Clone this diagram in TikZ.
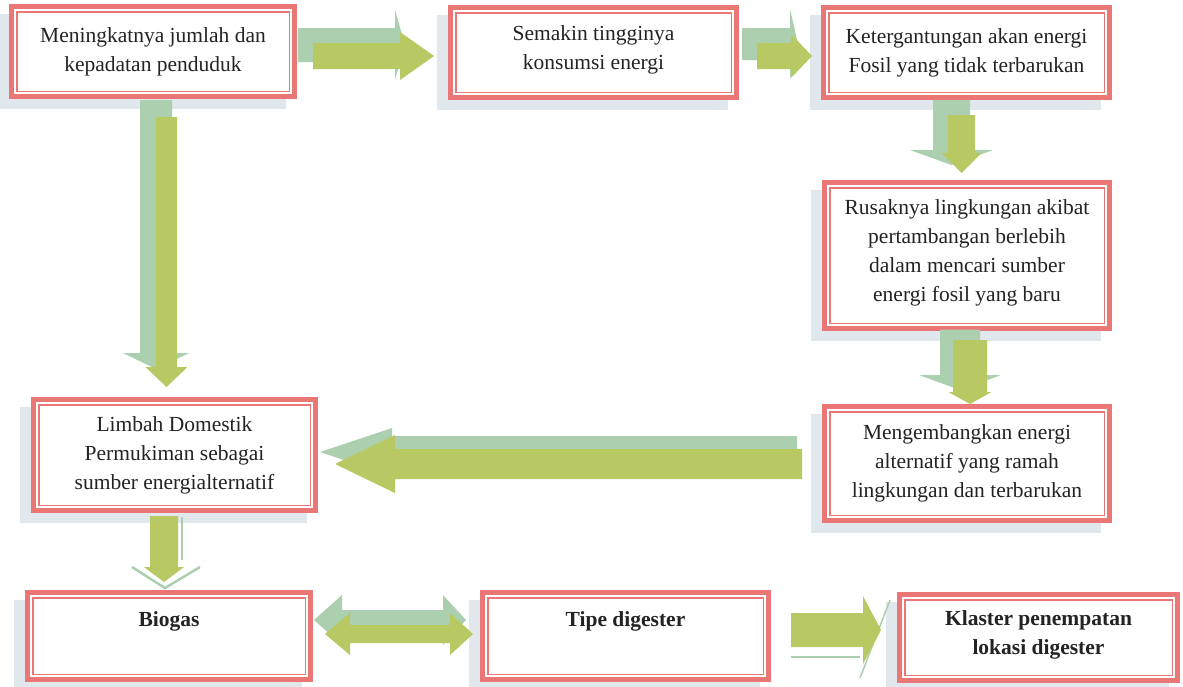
\documentclass[tikz,border=0pt]{standalone}
\usepackage{fontspec}
\setmainfont{Liberation Serif}
\usetikzlibrary{calc,shadows}
\definecolor{boxred}{RGB}{234,118,118}
\definecolor{boxshadow}{RGB}{224,231,237}
\definecolor{arrgreen}{RGB}{184,200,98}
\definecolor{arrshadow}{RGB}{172,207,176}
\definecolor{txt}{RGB}{35,35,35}
\tikzset{
  box/.style={rectangle, draw=boxred, line width=5pt, fill=white, inner sep=0pt, outer sep=0pt,
    align=center, text=txt, font=\fontsize{21.5}{29}\selectfont,
    general shadow={shadow xshift=-11pt, shadow yshift=-10pt, fill=boxshadow, draw=boxshadow}},
  innerline/.style={draw=boxred, line width=1.5pt},
  mainarr/.style={fill=arrgreen},
  shadarr/.style={fill=arrshadow},
  shadline/.style={draw=arrshadow, line width=2.5pt},
}
% horizontal block arrow: style, start, tip, half body, half head, signed head length
\newcommand\harr[6]{%
  \fill[#1] let \p1=#2, \p2=#3 in
   (\x1,{\y2+(#4)}) -- ({\x2-(#6)},{\y2+(#4)}) -- ({\x2-(#6)},{\y2+(#5)}) -- (\p2)
   -- ({\x2-(#6)},{\y2-(#5)}) -- ({\x2-(#6)},{\y2-(#4)}) -- (\x1,{\y2-(#4)}) -- cycle;}
% vertical (downward) block arrow
\newcommand\varr[6]{%
  \fill[#1] let \p1=#2, \p2=#3 in
   ({\x2-(#4)},\y1) -- ({\x2-(#4)},{\y2+(#6)}) -- ({\x2-(#5)},{\y2+(#6)}) -- (\p2)
   -- ({\x2+(#5)},{\y2+(#6)}) -- ({\x2+(#4)},{\y2+(#6)}) -- ({\x2+(#4)},\y1) -- cycle;}
\newcommand\inbox[1]{\draw[innerline] ([xshift=5.25pt,yshift=-5.25pt]#1.north west) rectangle ([xshift=-5.25pt,yshift=5.25pt]#1.south east);}
\begin{document}
\begin{tikzpicture}[x=1pt,y=-1pt]
\fill[white] (0,0) rectangle (1183,686);
\useasboundingbox (0,0) rectangle (1183,686);
% boxes
\node[box, minimum width=283pt, minimum height=90pt] (b1) at (153,51.5)
  {Meningkatnya jumlah dan\\kepadatan penduduk};
\node[box, minimum width=286pt, minimum height=90pt, text depth=10pt] (b2) at (593.5,52.5)
  {Semakin tingginya\\konsumsi energi};
\node[box, minimum width=286pt, minimum height=90pt] (b3) at (966.5,52.5)
  {Ketergantungan akan energi\\Fosil yang tidak terbarukan};
\node[box, minimum width=285pt, minimum height=146pt, text depth=9pt] (b4) at (967,255.5)
  {Rusaknya lingkungan akibat\\pertambangan berlebih\\dalam mencari sumber\\energi fosil yang baru};
\node[box, minimum width=285pt, minimum height=114pt] (b5) at (967,463.5)
  {Mengembangkan energi\\alternatif yang ramah\\lingkungan dan terbarukan};
\node[box, minimum width=282pt, minimum height=111pt] (b6) at (174.5,455)
  {Limbah Domestik\\Permukiman sebagai\\sumber energialternatif};
\node[box, minimum width=283pt, minimum height=87pt] (b7) at (169,636)
  {\raisebox{10pt}[0pt][0pt]{\bfseries Biogas}};
\node[box, minimum width=286pt, minimum height=87pt] (b8) at (625.5,636)
  {\raisebox{10pt}[0pt][0pt]{\bfseries Tipe digester}};
\node[box, minimum width=278pt, minimum height=86pt, text depth=10pt] (b9) at (1038.5,637.5)
  {\bfseries Klaster penempatan\\\bfseries lokasi digester};
\foreach \n in {b1,b2,b3,b4,b5,b6,b7,b8,b9} {\inbox{\n}}
% arrow 1: b1 -> b2
\harr{shadarr}{($(b1.east)+(3.5,0)$)}{($(b2.west)+(-45.5,-7.5)$)}{17pt}{35pt}{10pt}
\harr{mainarr}{($(b1.east)+(18.5,0)$)}{($(b2.west)+(-16.5,3.5)$)}{13pt}{24pt}{34pt}
% arrow 2: b2 -> b3
\harr{shadarr}{($(b2.east)+(5.5,0)$)}{($(b3.west)+(-25.5,-8.5)$)}{16pt}{35pt}{8pt}
\harr{mainarr}{($(b2.east)+(20.5,0)$)}{($(b3.west)+(-11.5,3.5)$)}{13pt}{22pt}{21pt}
% arrow 3: b3 -> b4
\varr{shadarr}{($(b3.south)+(0,2.5)$)}{($(b4.north)+(-15.5,-17.5)$)}{18.5pt}{41.5pt}{15pt}
\varr{mainarr}{($(b3.south)+(0,17.5)$)}{($(b4.north)+(-5.5,-9.5)$)}{13.5pt}{20pt}{20pt}
% arrow 4: b4 -> b5
\varr{shadarr}{($(b4.south)+(0,1)$)}{($(b5.north)+(-7,-16.5)$)}{20pt}{41pt}{15pt}
\varr{mainarr}{($(b4.south)+(0,11.5)$)}{($(b5.north)+(3,-2.5)$)}{17pt}{21.5pt}{12pt}
% arrow 5: b5 -> b6
\harr{shadarr}{($(b5.west)+(-27.5,0)$)}{($(b6.east)+(4.5,-3)$)}{16pt}{24pt}{-72pt}
\harr{mainarr}{($(b5.west)+(-22.5,0)$)}{($(b6.east)+(19.5,9)$)}{15pt}{29pt}{-60pt}
% arrow 6: b1 -> b6
\varr{shadarr}{($(b1.south)+(0,3.5)$)}{($(b6.north)+(-18.5,-30.5)$)}{16pt}{33pt}{16pt}
\varr{mainarr}{($(b1.south)+(0,20.5)$)}{($(b6.north)+(-8,-12.5)$)}{10.5pt}{21pt}{20pt}
% arrow 7: b6 -> b7
\draw[shadline] ($(b7.north)+(-37,-25.5)$) -- ($(b7.north)+(-4,-4.5)$) -- ($(b7.north)+(31,-25.5)$);
\draw[draw=arrshadow, line width=1.2pt] ($(b6.south)+(7.5,6.5)$) -- ($(b6.south)+(7.5,49.5)$);
\varr{mainarr}{($(b6.south)+(0,5.5)$)}{($(b7.north)+(-5,-10.5)$)}{14pt}{20pt}{15pt}
% arrow 8: b7 <-> b8
\fill[shadarr] let \p1=($(b7.east)+(3.5,-16)$), \p2=($(b8.west)+(-16.5,-16)$) in
  (\p1) -- ({\x1+28pt},{\y1+25pt}) -- ({\x1+28pt},{\y1+10pt}) -- ({\x2-23pt},{\y1+10pt})
  -- ({\x2-23pt},{\y1+25pt}) -- (\p2) -- ({\x2-23pt},{\y1-25pt}) -- ({\x2-23pt},{\y1-10pt})
  -- ({\x1+28pt},{\y1-10pt}) -- ({\x1+28pt},{\y1-25pt}) -- cycle;
\fill[mainarr] let \p1=($(b7.east)+(14.5,-2)$), \p2=($(b8.west)+(-9.5,-2)$) in
  (\p1) -- ({\x1+25pt},{\y1+21pt}) -- ({\x1+25pt},{\y1+9pt}) -- ({\x2-23pt},{\y1+9pt})
  -- ({\x2-23pt},{\y1+21pt}) -- (\p2) -- ({\x2-23pt},{\y1-21pt}) -- ({\x2-23pt},{\y1-9pt})
  -- ({\x1+25pt},{\y1-9pt}) -- ({\x1+25pt},{\y1-21pt}) -- cycle;
% arrow 9: b8 -> b9
\draw[draw=arrshadow, line width=1.5pt] ($(b8.east)+(22.5,21)$) -- ($(b8.east)+(91.5,21)$);
\draw[draw=arrshadow, line width=1.5pt] ($(b9.west)+(-39.5,40.5)$) -- ($(b9.west)+(-9.5,-37.5)$);
\harr{mainarr}{($(b8.east)+(22.5,0)$)}{($(b9.west)+(-18.5,-7.5)$)}{17pt}{34pt}{18pt}
\end{tikzpicture}
\end{document}
